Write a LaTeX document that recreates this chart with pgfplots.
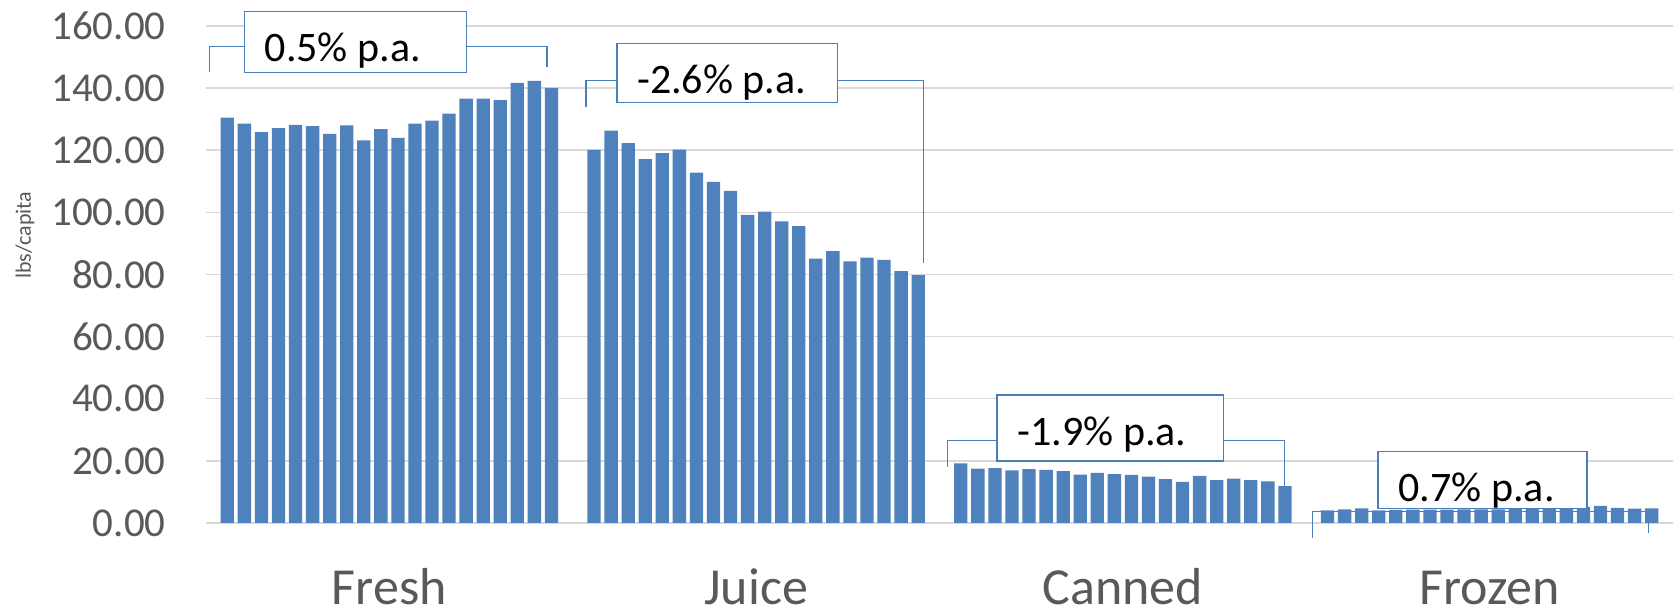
\documentclass[border=0pt]{standalone}
\usepackage{pgfplots}
\usepackage{pgfplotstable}
\usepackage{fontspec}
\setmainfont{Carlito}
\pgfplotsset{compat=1.18}
\definecolor{barblue}{HTML}{4F81BD}
\definecolor{linblue}{HTML}{4A7EBB}
\definecolor{gridgrey}{HTML}{D9D9D9}
\definecolor{txtgrey}{HTML}{595959}

\pgfplotstableread{
x y
1.25 130.5
2.25 128.6
3.25 125.8
4.25 127.1
5.25 128.2
6.25 127.8
7.25 125.3
8.25 128.0
9.25 123.2
10.25 126.8
11.25 124.0
12.25 128.6
13.25 129.5
14.25 131.8
15.25 136.6
16.25 136.6
17.25 136.1
18.25 141.7
19.25 142.3
20.25 140.1
}\fresh
\pgfplotstableread{
x y
22.75 120.1
23.75 126.3
24.75 122.3
25.75 117.1
26.75 119.1
27.75 120.2
28.75 112.8
29.75 109.8
30.75 106.9
31.75 99.2
32.75 100.2
33.75 97.1
34.75 95.6
35.75 85.1
36.75 87.5
37.75 84.2
38.75 85.4
39.75 84.7
40.75 81.1
41.75 79.8
}\juice
\pgfplotstableread{
x y
44.25 19.2
45.25 17.5
46.25 17.7
47.25 16.9
48.25 17.3
49.25 17.1
50.25 16.7
51.25 15.6
52.25 16.1
53.25 15.7
54.25 15.5
55.25 14.9
56.25 14.1
57.25 13.2
58.25 15.2
59.25 13.8
60.25 14.3
61.25 13.8
62.25 13.4
63.25 11.9
}\canned
\pgfplotstableread{
x y
65.75 4.1
66.75 4.4
67.75 4.7
68.75 4.1
69.75 4.2
70.75 4.3
71.75 4.3
72.75 4.3
73.75 4.4
74.75 4.4
75.75 4.4
76.75 4.5
77.75 4.5
78.75 4.5
79.75 4.6
80.75 5.2
81.75 5.5
82.75 4.9
83.75 4.6
84.75 4.7
}\frozen

\begin{document}
\begin{tikzpicture}
\begin{axis}[
  at={(103pt,45pt)}, anchor=south west,
  scale only axis, width=733.5pt, height=248.5pt,
  xmin=0, xmax=86, ymin=0, ymax=160,
  clip=false,
  axis line style={draw=none},
  tick style={draw=none},
  ymajorgrids,
  major grid style={color=gridgrey, line width=0.75pt},
  ytick={0,20,...,160},
  xtick={10.75,32.25,53.75,75.25},
  xticklabels={Fresh,Juice,Canned,Frozen},
  yticklabel style={anchor=east, inner sep=0pt, xshift=-20pt, text=txtgrey,
    font=\fontsize{20.5pt}{24pt}\selectfont,
    /pgf/number format/fixed, /pgf/number format/fixed zerofill,
    /pgf/number format/precision=2, /pgf/number format/assume math mode=true},
  xticklabel style={anchor=base, inner sep=0pt, yshift=-41pt, text=txtgrey,
    font=\fontsize{26pt}{30pt}\selectfont},
]
\draw[linblue, line width=0.75pt] (axis cs:0.193,145.03) -- (axis cs:0.193,153.34) -- (axis cs:19.99,153.34) -- (axis cs:19.99,146.81);
\draw[linblue, line width=0.75pt] (axis cs:22.28,134.02) -- (axis cs:22.28,142.39) -- (axis cs:42.05,142.39) -- (axis cs:42.05,83.70);
\draw[linblue, line width=0.75pt] (axis cs:43.46,18.12) -- (axis cs:43.46,26.50) -- (axis cs:63.21,26.50) -- (axis cs:63.21,11.91);
\draw[linblue, line width=0.75pt] (axis cs:64.86,-4.73) -- (axis cs:64.86,3.64) -- (axis cs:84.55,3.64) -- (axis cs:84.55,-3.12);
\addplot[ybar, bar width=0.78, bar shift=0pt, fill=barblue, draw=none] table[x=x,y=y] {\fresh};
\addplot[ybar, bar width=0.78, bar shift=0pt, fill=barblue, draw=none] table[x=x,y=y] {\juice};
\addplot[ybar, bar width=0.78, bar shift=0pt, fill=barblue, draw=none] table[x=x,y=y] {\canned};
\addplot[ybar, bar width=0.78, bar shift=0pt, fill=barblue, draw=none] table[x=x,y=y] {\frozen};
\draw[linblue, line width=0.75pt, fill=white] (axis cs:2.245,164.61) rectangle (axis cs:15.283,145.09);
\draw[linblue, line width=0.75pt, fill=white] (axis cs:24.08,154.43) rectangle (axis cs:37.03,135.44);
\draw[linblue, line width=0.75pt, fill=white] (axis cs:46.37,41.21) rectangle (axis cs:59.64,19.96);
\draw[linblue, line width=0.75pt, fill=white] (axis cs:68.72,22.95) rectangle (axis cs:80.96,4.60);
\node[anchor=base, inner sep=0pt, font=\fontsize{21pt}{25pt}\selectfont] at (axis cs:8.02,148.51) {0.5\% p.a.};
\node[anchor=base, inner sep=0pt, font=\fontsize{21pt}{25pt}\selectfont] at (axis cs:30.23,138.33) {-2.6\% p.a.};
\node[anchor=base, inner sep=0pt, font=\fontsize{21pt}{25pt}\selectfont] at (axis cs:52.53,24.79) {-1.9\% p.a.};
\node[anchor=base, inner sep=0pt, font=\fontsize{21pt}{25pt}\selectfont] at (axis cs:74.49,6.86) {0.7\% p.a.};
\end{axis}
\node[rotate=90, text=txtgrey, font=\fontsize{11pt}{13pt}\selectfont] at (12.5pt,189pt) {lbs/capita};
\path (0,0) (838.5pt,306.5pt);
\end{tikzpicture}
\end{document}
